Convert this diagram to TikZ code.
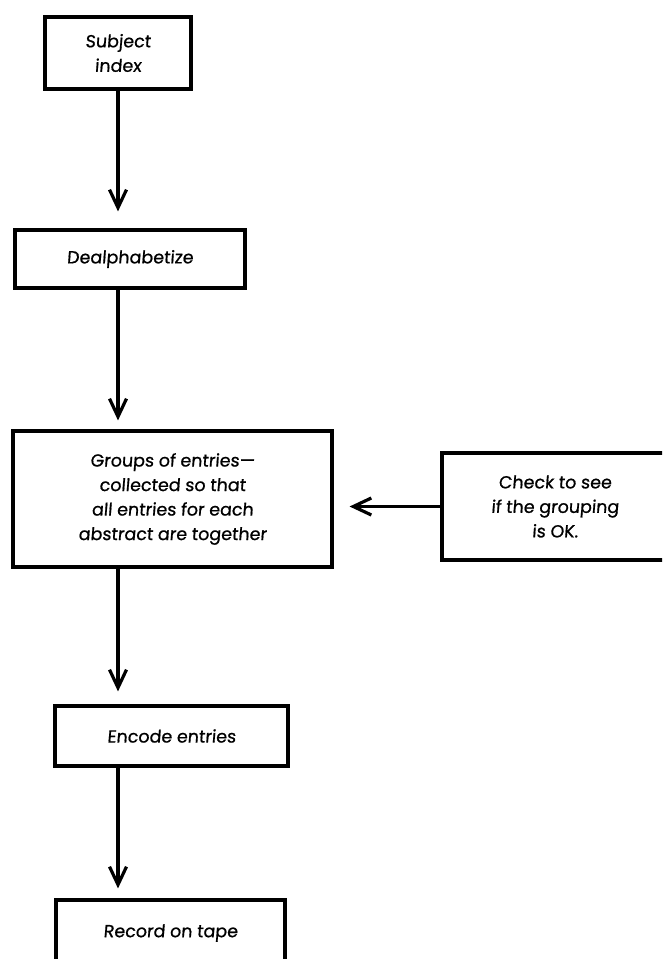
\documentclass[tikz,border=0pt]{standalone}
\usepackage{fontspec}
\setmainfont[FakeSlant=0.08,FakeBold=0.8]{Poppins}
\usetikzlibrary{arrows.meta}
\begin{document}
\begin{tikzpicture}[x=1pt,y=-1pt,
  box/.style={draw,line width=3.2pt,align=center,inner sep=0pt,
    font=\fontsize{17.5}{24.5}\selectfont},
  arr/.style={line width=3.2pt,-{Straight Barb[length=18pt,width=17pt,line width=3.2pt]}}]
\useasboundingbox (0,0) rectangle (662,959);
\clip (0,0) rectangle (662,959);
\node[box,minimum width=146pt,minimum height=72pt] (subj) at (118,53) {Subject\\index};
\node[box,minimum width=230pt,minimum height=58pt] (deal) at (130,259) {Dealphabetize};
\node[box,minimum width=319pt,minimum height=136pt] (grp) at (172.5,499)
  {Groups of entries---\\collected so that\\all entries for each\\abstract are together};
\node[box,minimum width=226pt,minimum height=107pt] (chk) at (555,506.5)
  {Check to see\\if the grouping\\is OK.};
\node[box,minimum width=233pt,minimum height=60pt] (enc) at (171.5,736) {Encode entries};
\node[box,minimum width=229pt,minimum height=66pt] (rec) at (170.5,933) {Record on tape};
\draw[arr,shorten >=17pt] (subj.south) -- (subj.south |- deal.north);
\draw[arr,shorten >=9pt] (subj.south |- deal.south) -- (subj.south |- grp.north);
\draw[arr,shorten >=16pt] (chk.west) -- (grp.east |- chk.west);
\draw[arr,shorten >=13pt] (subj.south |- grp.south) -- (subj.south |- enc.north);
\draw[arr,shorten >=10pt] (subj.south |- enc.south) -- (subj.south |- rec.north);
\end{tikzpicture}
\end{document}
